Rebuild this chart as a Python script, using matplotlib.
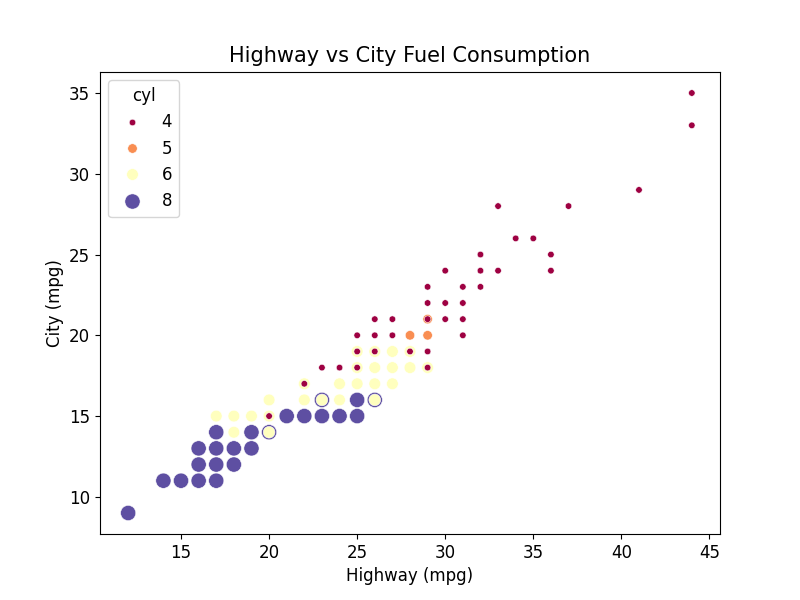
import matplotlib
matplotlib.use("Agg")
import matplotlib.pyplot as plt
import seaborn as sns
import pandas as pd

# Unique (hwy, cty) points per cylinder count
hwy_8 = [12, 14, 15, 16, 17, 16, 17, 18, 16, 17, 18, 19, 17, 19, 20, 21, 22, 23, 24, 25, 23, 25, 26]
cty_8 = [9, 11, 11, 11, 11, 12, 12, 12, 13, 13, 13, 13, 14, 14, 14, 15, 15, 15, 15, 15, 16, 16, 16]

hwy_6 = [18, 20, 17, 18, 19, 20, 20, 22, 23, 24, 26, 22, 24, 25, 26, 27, 25, 26, 27, 28, 29, 25, 26, 27, 28]
cty_6 = [14, 14, 15, 15, 15, 15, 16, 16, 16, 16, 16, 17, 17, 17, 17, 17, 18, 18, 18, 18, 18, 19, 19, 19, 19]

hwy_5 = [28, 29, 29]
cty_5 = [20, 20, 21]

hwy_4 = [20, 22, 23, 24, 25, 29, 25, 26, 28, 29, 25, 26, 27, 31, 26, 27, 29, 30, 31,
         29, 30, 31, 29, 31, 32, 30, 32, 33, 36, 32, 36, 34, 35, 33, 37, 41, 44, 44]
cty_4 = [15, 17, 18, 18, 18, 18, 19, 19, 19, 19, 20, 20, 20, 20, 21, 21, 21, 21, 21,
         22, 22, 22, 23, 23, 23, 24, 24, 24, 24, 25, 25, 26, 26, 28, 28, 29, 33, 35]

frames = []
for c, h, y in [(8, hwy_8, cty_8), (6, hwy_6, cty_6), (5, hwy_5, cty_5), (4, hwy_4, cty_4)]:
    frames.append(pd.DataFrame({"hwy": h, "cty": y, "cyl": c}))
df = pd.concat(frames, ignore_index=True)

fig, ax = plt.subplots(figsize=(8, 6), dpi=100)
sns.scatterplot(data=df, x="hwy", y="cty", hue="cyl", size="cyl",
                sizes=(22, 120), palette="Spectral", ax=ax)
ax.set_title("Highway vs City Fuel Consumption", fontsize=15, pad=7)
ax.set_xlabel("Highway (mpg)", fontsize=12)
ax.set_ylabel("City (mpg)", fontsize=12)
ax.tick_params(labelsize=12)
leg = ax.legend(title="cyl", loc="upper left", fontsize=12, title_fontsize=12)
fig.savefig("out.png", dpi=100)
